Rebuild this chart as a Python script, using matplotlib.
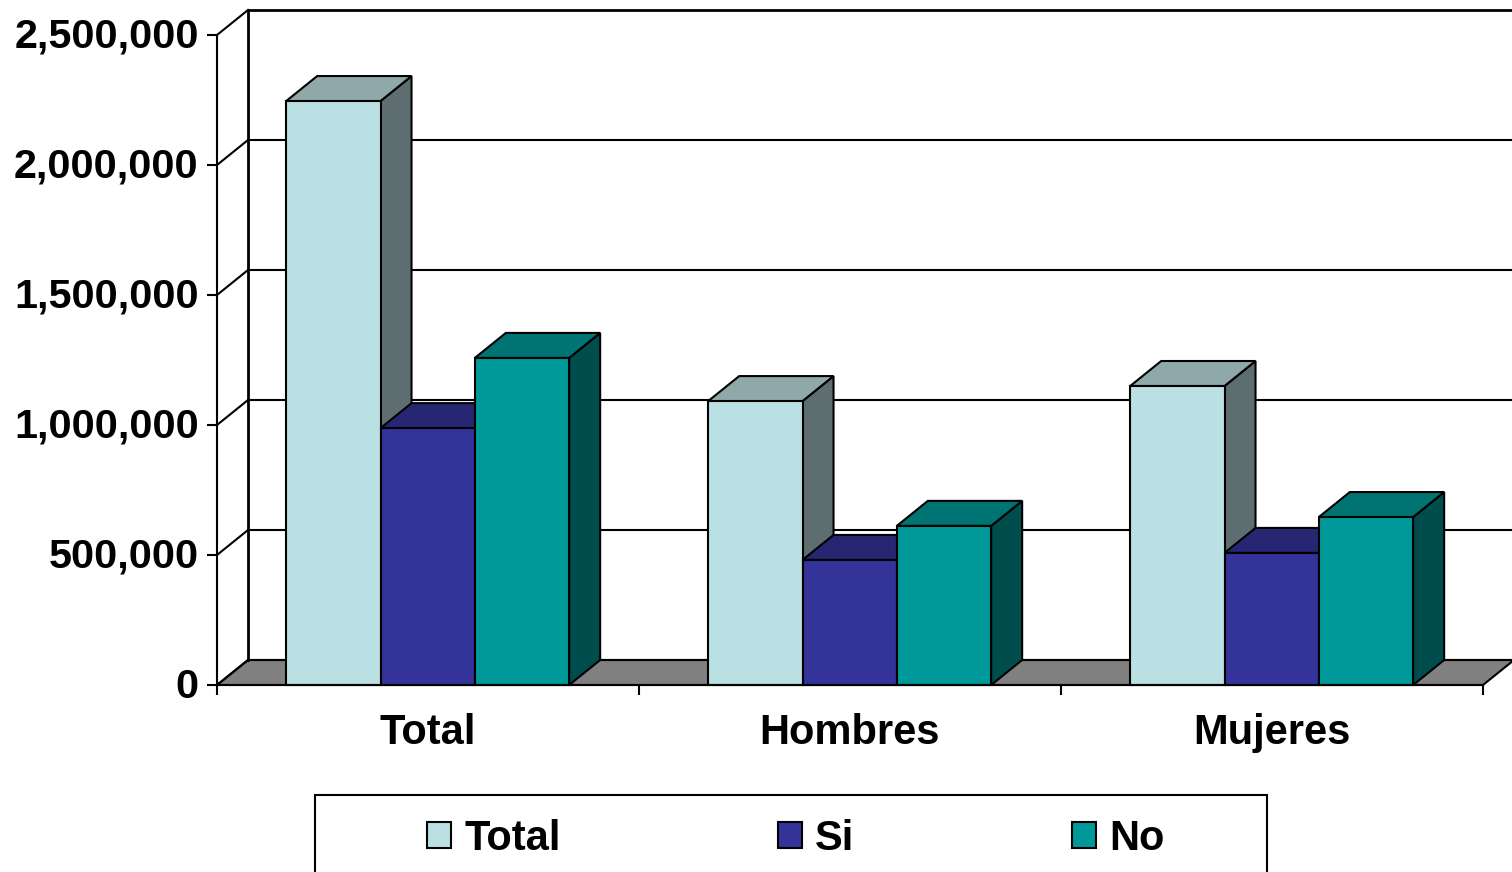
import matplotlib
matplotlib.use("Agg")
import matplotlib.pyplot as plt
from matplotlib.patches import Polygon, Rectangle, Patch
from matplotlib.ticker import FuncFormatter
from matplotlib.transforms import ScaledTranslation

categories = ["Total", "Hombres", "Mujeres"]
series_names = ["Total", "Si", "No"]
total_values = [2246000, 1092000, 1150000]
si_values = [988000, 481000, 508000]
no_values = [1258000, 612000, 646000]
y_ticks = [0, 500000, 1000000, 1500000, 2000000, 2500000]

W, H = 1512, 872
FRONT = ["#BAE0E3", "#333399", "#009999"]
TOP = ["#8FA8AA", "#262673", "#007373"]
SIDE = ["#5E6E70", "#1F1F5C", "#004D4D"]

plt.rcParams["font.family"] = ["Liberation Sans", "DejaVu Sans"]
plt.rcParams["font.weight"] = "bold"
fig = plt.figure(figsize=(W / 100, H / 100), dpi=100, facecolor="white")
ax = fig.add_axes([217 / W, (H - 685) / H, 1266 / W, 650 / H])
ax.set_xlim(0, 3)
ax.set_ylim(0, 2500000)
ax.patch.set_visible(False)

dx = 31 / 422
dy = 25 / 650 * 2500000
gap = 0.164
bw = (1 - 2 * gap) / 3 - 0.0005
LW = 1.5

# floor
ax.add_patch(Polygon([(0, 0), (dx, dy), (3 + dx, dy), (3, 0)], closed=True,
                     fc="#808080", ec="black", lw=LW, clip_on=False, zorder=1))
# back wall lines and side-wall lines
for t in y_ticks:
    top = t == y_ticks[-1]
    ax.plot([dx, 3 + dx], [t + dy, t + dy], color="black", lw=2.0 if top else 1.5,
            clip_on=False, zorder=1, solid_capstyle="butt")
    ax.plot([0, dx], [t, t + dy], color="black", lw=1.5, clip_on=False, zorder=1)
ax.plot([dx, dx], [dy, 2500000 + dy], color="black", lw=2, clip_on=False, zorder=1)

def bar3d(x, v, i, z):
    kw = dict(ec="black", lw=LW, joinstyle="miter", clip_on=False, zorder=z)
    ax.add_patch(Polygon([(x + bw, 0), (x + bw + dx, dy), (x + bw + dx, v + dy), (x + bw, v)], closed=True, fc=SIDE[i], **kw))
    ax.add_patch(Polygon([(x, v), (x + dx, v + dy), (x + bw + dx, v + dy), (x + bw, v)], closed=True, fc=TOP[i], **kw))
    ax.add_patch(Rectangle((x, 0), bw, v, fc=FRONT[i], **kw))

z = 3
for g in range(len(categories)):
    for i, vals in enumerate([total_values, si_values, no_values]):
        bar3d(g + gap + i * bw, vals[g], i, z)
        z += 1

for s in ("top", "right"):
    ax.spines[s].set_visible(False)
for s in ("left", "bottom"):
    ax.spines[s].set_linewidth(1.5)
    ax.spines[s].set_zorder(50)

ax.set_yticks(y_ticks)
ax.yaxis.set_major_formatter(FuncFormatter(lambda v, _: f"{int(v):,}"))
ax.tick_params(axis="y", length=7.2, width=1.5, pad=6, labelsize=29.8)
shift = ScaledTranslation(0, 2 / 100, fig.dpi_scale_trans)
for lab in ax.get_yticklabels():
    lab.set_transform(lab.get_transform() + shift)
ax.set_xticks([0, 1, 2, 3])
ax.set_xticklabels([])
ax.tick_params(axis="x", which="major", length=7.2, width=1.5)
ax.set_xticks([0.5, 1.5, 2.5], minor=True)
ax.set_xticklabels(categories, minor=True, fontsize=30, fontweight="bold")
ax.tick_params(axis="x", which="minor", length=0, pad=20.5)

# legend frame (runs past the bottom edge of the picture)
fig.add_artist(Rectangle((315 / W, -0.05), (1267 - 315) / W, (H - 795) / H + 0.05,
                         transform=fig.transFigure, fc="white", ec="black", lw=1.5))
handles = [Patch(fc=FRONT[i], ec="black", lw=1.5, label=series_names[i]) for i in range(3)]
fig.legend(handles=handles, loc="center left", bbox_to_anchor=(427 / W, (H - 839) / H),
           ncol=3, frameon=False, fontsize=30, borderpad=0, borderaxespad=0,
           handlelength=0.58, handleheight=0.58, handletextpad=0.31, columnspacing=5.22)

fig.savefig("out.png", dpi=100)
